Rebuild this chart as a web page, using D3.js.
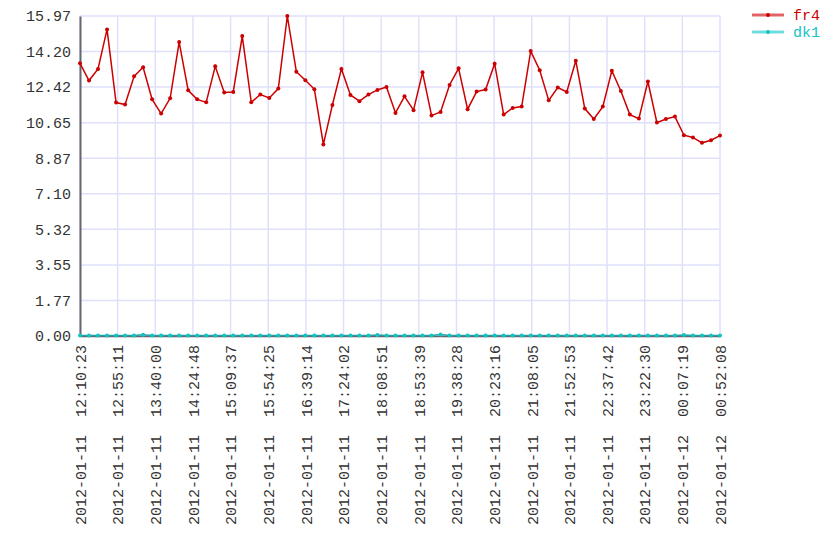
<!DOCTYPE html>
<html>
<head>
<meta charset="utf-8">
<script src="https://cdn.jsdelivr.net/npm/d3@7"></script>
<style>
  body { margin: 0; background: #fff; }
  svg text { font-family: "Liberation Mono", "Courier New", monospace; font-size: 15px; }
</style>
</head>
<body>
<div class="canvas"></div>
<script>
// series names, colours
var seriesNames = ["fr4", "dk1"];
var seriesColors = ["#cc0000", "#11c4c4"];

// sampling: first and last timestamp, samples are evenly spaced
var startTime = "2012-01-11 12:10:23";
var endTime = "2012-01-12 00:52:08";

var fr4Values = [
  13.61, 12.75, 13.33, 15.30, 11.65, 11.55, 12.96, 13.41, 11.81, 11.10,
  11.86, 14.67, 12.26, 11.81, 11.66, 13.46, 12.15, 12.18, 14.97, 11.66,
  12.05, 11.88, 12.35, 15.97, 13.19, 12.76, 12.31, 9.56, 11.53, 13.33,
  12.03, 11.72, 12.05, 12.28, 12.43, 11.13, 11.96, 11.27, 13.16, 11.00,
  11.18, 12.53, 13.36, 11.32, 12.20, 12.30, 13.59, 11.05, 11.38, 11.45,
  14.22, 13.26, 11.76, 12.40, 12.18, 13.74, 11.35, 10.83, 11.45, 13.24,
  12.23, 11.05, 10.85, 12.70, 10.65, 10.83, 10.95, 10.02, 9.91, 9.64,
  9.77, 10.00
];

var dk1Values = [
  0.02, 0.02, 0.02, 0.02, 0.02, 0.02, 0.02, 0.06, 0.02, 0.02,
  0.02, 0.02, 0.02, 0.02, 0.02, 0.02, 0.02, 0.02, 0.02, 0.02,
  0.02, 0.02, 0.02, 0.03, 0.02, 0.02, 0.02, 0.02, 0.02, 0.02,
  0.02, 0.02, 0.02, 0.05, 0.02, 0.02, 0.02, 0.02, 0.02, 0.02,
  0.08, 0.02, 0.02, 0.02, 0.02, 0.02, 0.02, 0.02, 0.02, 0.02,
  0.02, 0.02, 0.02, 0.02, 0.02, 0.02, 0.02, 0.02, 0.02, 0.02,
  0.02, 0.02, 0.02, 0.02, 0.02, 0.02, 0.02, 0.05, 0.02, 0.02,
  0.02, 0.02
];

var xTickCount = 18;
var yTickCount = 10;

var width = 840;
var height = 560;
var margin = { top: 16, right: 120, bottom: 224, left: 80 };

var parseTime = d3.timeParse("%Y-%m-%d %H:%M:%S");
var t0 = parseTime(startTime);
var t1 = parseTime(endTime);
var step = (t1 - t0) / (fr4Values.length - 1);

var data = [
  { name: seriesNames[0], values: fr4Values },
  { name: seriesNames[1], values: dk1Values },
].map(function (s) {
  return {
    name: s.name,
    values: s.values.map((v, i) => ({ date: new Date(+t0 + i * step), value: v })),
  };
});

var yMax = d3.max(fr4Values);

var xScale = d3.scaleTime()
  .domain([t0, t1])
  .range([margin.left, width - margin.right]);
var yScale = d3.scaleLinear()
  .domain([0, yMax])
  .range([height - margin.bottom, margin.top]);

var xTicks = d3.range(xTickCount).map((k) => new Date(+t0 + k * (t1 - t0) / (xTickCount - 1)));
var yTicks = d3.range(yTickCount).map((k) => k * yMax / (yTickCount - 1));

var svg = d3.select(".canvas")
  .append("svg")
  .attr("width", width)
  .attr("height", height);

/* grid */
var grid = svg.append("g").attr("class", "grid");
grid.selectAll(".vline")
  .data(xTicks)
  .enter()
  .append("line")
  .attr("x1", (d) => xScale(d))
  .attr("x2", (d) => xScale(d))
  .attr("y1", yScale(yMax))
  .attr("y2", yScale(0))
  .attr("stroke", "#e0e0fb")
  .attr("stroke-width", 1.5);
grid.selectAll(".hline")
  .data(yTicks)
  .enter()
  .append("line")
  .attr("x1", xScale(t0))
  .attr("x2", xScale(t1))
  .attr("y1", (d) => yScale(d))
  .attr("y2", (d) => yScale(d))
  .attr("stroke", "#e0e0fb")
  .attr("stroke-width", 1.5);

/* axes */
var yAxis = d3.axisLeft(yScale)
  .tickValues(yTicks)
  .tickFormat(d3.format(".2f"))
  .tickSize(0)
  .tickPadding(9);
var gy = svg.append("g")
  .attr("transform", `translate(${margin.left}, 0)`)
  .call(yAxis);
gy.select(".domain").attr("stroke", "#666670").attr("stroke-width", 2);
gy.selectAll("text").attr("fill", "#333").style("font-size", "15px");

var fmt = d3.timeFormat("%Y-%m-%d  %H:%M:%S");
var xAxis = d3.axisBottom(xScale)
  .tickValues(xTicks)
  .tickFormat(fmt)
  .tickSize(0)
  .tickPadding(9);
var gx = svg.append("g")
  .attr("transform", `translate(0, ${height - margin.bottom})`)
  .call(xAxis);
gx.select(".domain").attr("stroke", "#666670").attr("stroke-width", 1.5);
gx.selectAll("text")
  .attr("fill", "#333")
  .style("font-size", "15px")
  .style("white-space", "pre")
  .attr("transform", "rotate(-90)")
  .attr("text-anchor", "end")
  .attr("x", -9)
  .attr("y", 0)
  .attr("dy", "0.35em");

/* lines */
var line = d3.line()
  .x((d) => xScale(d.date))
  .y((d) => yScale(d.value));

var lines = svg.append("g").attr("class", "lines");
lines.selectAll(".line")
  .data(data)
  .enter()
  .append("path")
  .attr("class", "line")
  .attr("d", (d) => line(d.values))
  .attr("fill", "none")
  .attr("stroke", (d, i) => (i === 1 ? "#2a9f9f" : seriesColors[i]))
  .attr("stroke-width", 1.5);

lines.selectAll(".circle-group")
  .data(data)
  .enter()
  .append("g")
  .attr("fill", (d, i) => seriesColors[i])
  .selectAll("circle")
  .data((d) => d.values)
  .enter()
  .append("circle")
  .attr("cx", (d) => xScale(d.date))
  .attr("cy", (d) => yScale(d.value))
  .attr("r", 2);

/* legend */
var legend = svg.append("g")
  .attr("transform", `translate(752, 15)`);
var item = legend.selectAll(".item")
  .data(seriesNames)
  .enter()
  .append("g")
  .attr("transform", (d, i) => `translate(0, ${i * 17})`);
item.append("line")
  .attr("x1", 0)
  .attr("x2", 32)
  .attr("stroke", (d, i) => seriesColors[i])
  .attr("stroke-opacity", 0.6)
  .attr("stroke-width", 3);
item.append("circle")
  .attr("cx", 16)
  .attr("r", 2)
  .attr("fill", (d, i) => seriesColors[i]);
item.append("text")
  .attr("x", 41)
  .attr("dy", "0.35em")
  .attr("fill", (d, i) => seriesColors[i])
  .text((d) => d);
</script>
</body>
</html>
